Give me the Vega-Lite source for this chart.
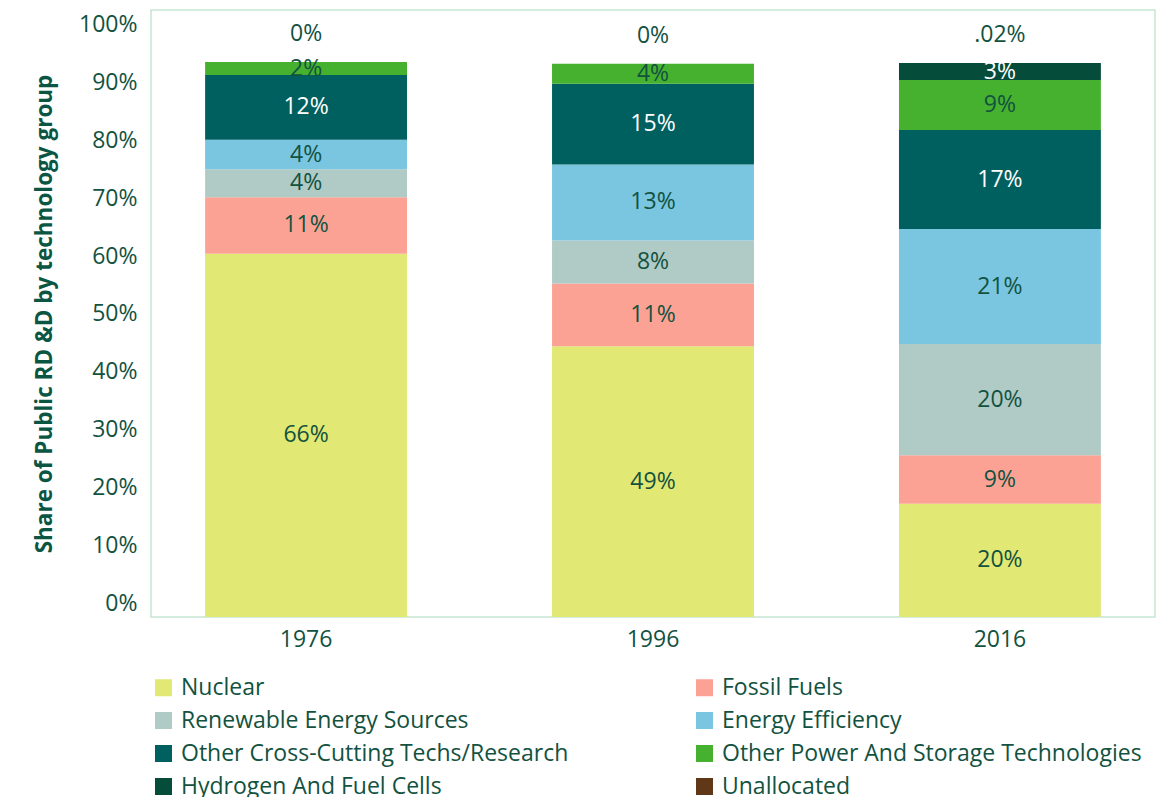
{
  "$schema": "https://vega.github.io/schema/vega-lite/v6.json",
  "autosize": "none",
  "width": 1004,
  "height": 607,
  "padding": {"left": 151, "top": 10, "right": 6, "bottom": 180},
  "background": "white",
  "config": {
    "font": "Open Sans",
    "view": {"stroke": "#c6e6d2", "strokeWidth": 1.5},
    "axis": {"labelColor": "#12523f", "titleColor": "#0b5643", "labelFont": "Open Sans"},
    "legend": {"labelColor": "#12523f", "labelFont": "Open Sans"}
  },
  "datasets": {
    "shares": [
      {"year": "1976", "category": "Nuclear", "rank": 1, "value": 65.6, "label": "66%"},
      {"year": "1976", "category": "Fossil Fuels", "rank": 2, "value": 10.2, "label": "11%"},
      {"year": "1976", "category": "Renewable Energy Sources", "rank": 3, "value": 5.05, "label": "4%"},
      {"year": "1976", "category": "Energy Efficiency", "rank": 4, "value": 5.3, "label": "4%"},
      {"year": "1976", "category": "Other Cross-Cutting Techs/Research", "rank": 5, "value": 11.7, "label": "12%"},
      {"year": "1976", "category": "Other Power And Storage Technologies", "rank": 6, "value": 2.35, "label": "2%"},
      {"year": "1976", "category": "Hydrogen And Fuel Cells", "rank": 7, "value": 0, "label": ""},
      {"year": "1976", "category": "Unallocated", "rank": 8, "value": 0, "label": "0%"},
      {"year": "1996", "category": "Nuclear", "rank": 1, "value": 48.9, "label": "49%"},
      {"year": "1996", "category": "Fossil Fuels", "rank": 2, "value": 11.3, "label": "11%"},
      {"year": "1996", "category": "Renewable Energy Sources", "rank": 3, "value": 7.8, "label": "8%"},
      {"year": "1996", "category": "Energy Efficiency", "rank": 4, "value": 13.7, "label": "13%"},
      {"year": "1996", "category": "Other Cross-Cutting Techs/Research", "rank": 5, "value": 14.6, "label": "15%"},
      {"year": "1996", "category": "Other Power And Storage Technologies", "rank": 6, "value": 3.6, "label": "4%"},
      {"year": "1996", "category": "Hydrogen And Fuel Cells", "rank": 7, "value": 0, "label": ""},
      {"year": "1996", "category": "Unallocated", "rank": 8, "value": 0, "label": "0%"},
      {"year": "2016", "category": "Nuclear", "rank": 1, "value": 20.45, "label": "20%"},
      {"year": "2016", "category": "Fossil Fuels", "rank": 2, "value": 8.74, "label": "9%"},
      {"year": "2016", "category": "Renewable Energy Sources", "rank": 3, "value": 20.1, "label": "20%"},
      {"year": "2016", "category": "Energy Efficiency", "rank": 4, "value": 20.76, "label": "21%"},
      {"year": "2016", "category": "Other Cross-Cutting Techs/Research", "rank": 5, "value": 17.87, "label": "17%"},
      {"year": "2016", "category": "Other Power And Storage Technologies", "rank": 6, "value": 9.03, "label": "9%"},
      {"year": "2016", "category": "Hydrogen And Fuel Cells", "rank": 7, "value": 3.07, "label": "3%"},
      {"year": "2016", "category": "Unallocated", "rank": 8, "value": 0.02, "label": ".02%"}
    ],
    "ticks": [{"v": 0}, {"v": 100}]
  },
  "layer": [
    {
      "data": {"name": "ticks"},
      "mark": {"type": "rule", "opacity": 0},
      "encoding": {
        "y": {
          "field": "v",
          "type": "quantitative",
          "scale": {"domain": [-2.33, 102.5], "nice": false, "zero": false},
          "axis": {
            "orient": "left",
            "values": [0, 10, 20, 30, 40, 50, 60, 70, 80, 90, 100],
            "labelExpr": "datum.value + '%'",
            "grid": false,
            "ticks": false,
            "tickSize": 0,
            "domain": false,
            "labelFontSize": 23,
            "labelPadding": 14,
            "title": "Share of Public RD &D by technology group",
            "titleFontSize": 22.5,
            "titleFontWeight": "bold",
            "titlePadding": 22
          }
        }
      }
    },
    {
      "data": {"name": "shares"},
      "encoding": {
        "x": {
          "field": "year",
          "type": "nominal",
          "scale": {"paddingInner": 0.418, "paddingOuter": 0.156},
          "axis": {
            "title": null,
            "labelAngle": 0,
            "ticks": false,
            "domain": false,
            "labelFontSize": 23,
            "labelPadding": 11
          }
        }
      },
      "layer": [
        {
          "mark": {"type": "bar"},
          "encoding": {
            "y": {
              "field": "value",
              "type": "quantitative",
              "stack": "zero",
              "scale": {"domain": [0, 109.6], "nice": false},
              "axis": null
            },
            "order": {"field": "rank", "type": "quantitative", "sort": "ascending"},
            "color": {
              "field": "category",
              "type": "nominal",
              "sort": ["Nuclear", "Fossil Fuels", "Renewable Energy Sources", "Energy Efficiency", "Other Cross-Cutting Techs/Research", "Other Power And Storage Technologies", "Hydrogen And Fuel Cells", "Unallocated"],
              "scale": {
                "domain": ["Nuclear", "Fossil Fuels", "Renewable Energy Sources", "Energy Efficiency", "Other Cross-Cutting Techs/Research", "Other Power And Storage Technologies", "Hydrogen And Fuel Cells", "Unallocated"],
                "range": ["#e1e873", "#fca295", "#b0cac5", "#7ac5e0", "#005f5f", "#46b02f", "#054c3b", "#613817"]
              },
              "legend": {
                "title": null,
                "orient": "none",
                "legendX": 1,
                "legendY": 666,
                "columns": 2,
                "direction": "horizontal",
                "symbolType": "square",
                "symbolSize": 289,
                "symbolStrokeWidth": 0,
                "labelFontSize": 23,
                "labelOffset": 6,
                "columnPadding": 124,
                "rowPadding": 9,
                "padding": 0,
                "labelLimit": 600
              }
            }
          }
        },
        {
          "mark": {"type": "text", "fontSize": 23, "baseline": "middle", "align": "center"},
          "encoding": {
            "y": {
              "field": "value",
              "type": "quantitative",
              "stack": "zero",
              "bandPosition": 0.5,
              "scale": {"domain": [0, 109.6], "nice": false},
              "axis": null
            },
            "detail": {"field": "category", "type": "nominal"},
            "order": {"field": "rank", "type": "quantitative", "sort": "ascending"},
            "text": {
              "condition": {"test": "datum.category !== 'Unallocated'", "field": "label"},
              "value": ""
            },
            "color": {
              "condition": {"test": "datum.category === 'Other Cross-Cutting Techs/Research' || datum.category === 'Hydrogen And Fuel Cells'", "value": "white"},
              "value": "#12523f"
            }
          }
        },
        {
          "mark": {"type": "text", "fontSize": 23, "baseline": "middle", "align": "center", "dy": -28},
          "encoding": {
            "y": {
              "field": "value",
              "type": "quantitative",
              "stack": "zero",
              "scale": {"domain": [0, 109.6], "nice": false},
              "axis": null
            },
            "detail": {"field": "category", "type": "nominal"},
            "order": {"field": "rank", "type": "quantitative", "sort": "ascending"},
            "text": {
              "condition": {"test": "datum.category === 'Unallocated'", "field": "label"},
              "value": ""
            },
            "color": {"value": "#12523f"}
          }
        }
      ]
    }
  ],
  "resolve": {"scale": {"y": "independent"}}
}
